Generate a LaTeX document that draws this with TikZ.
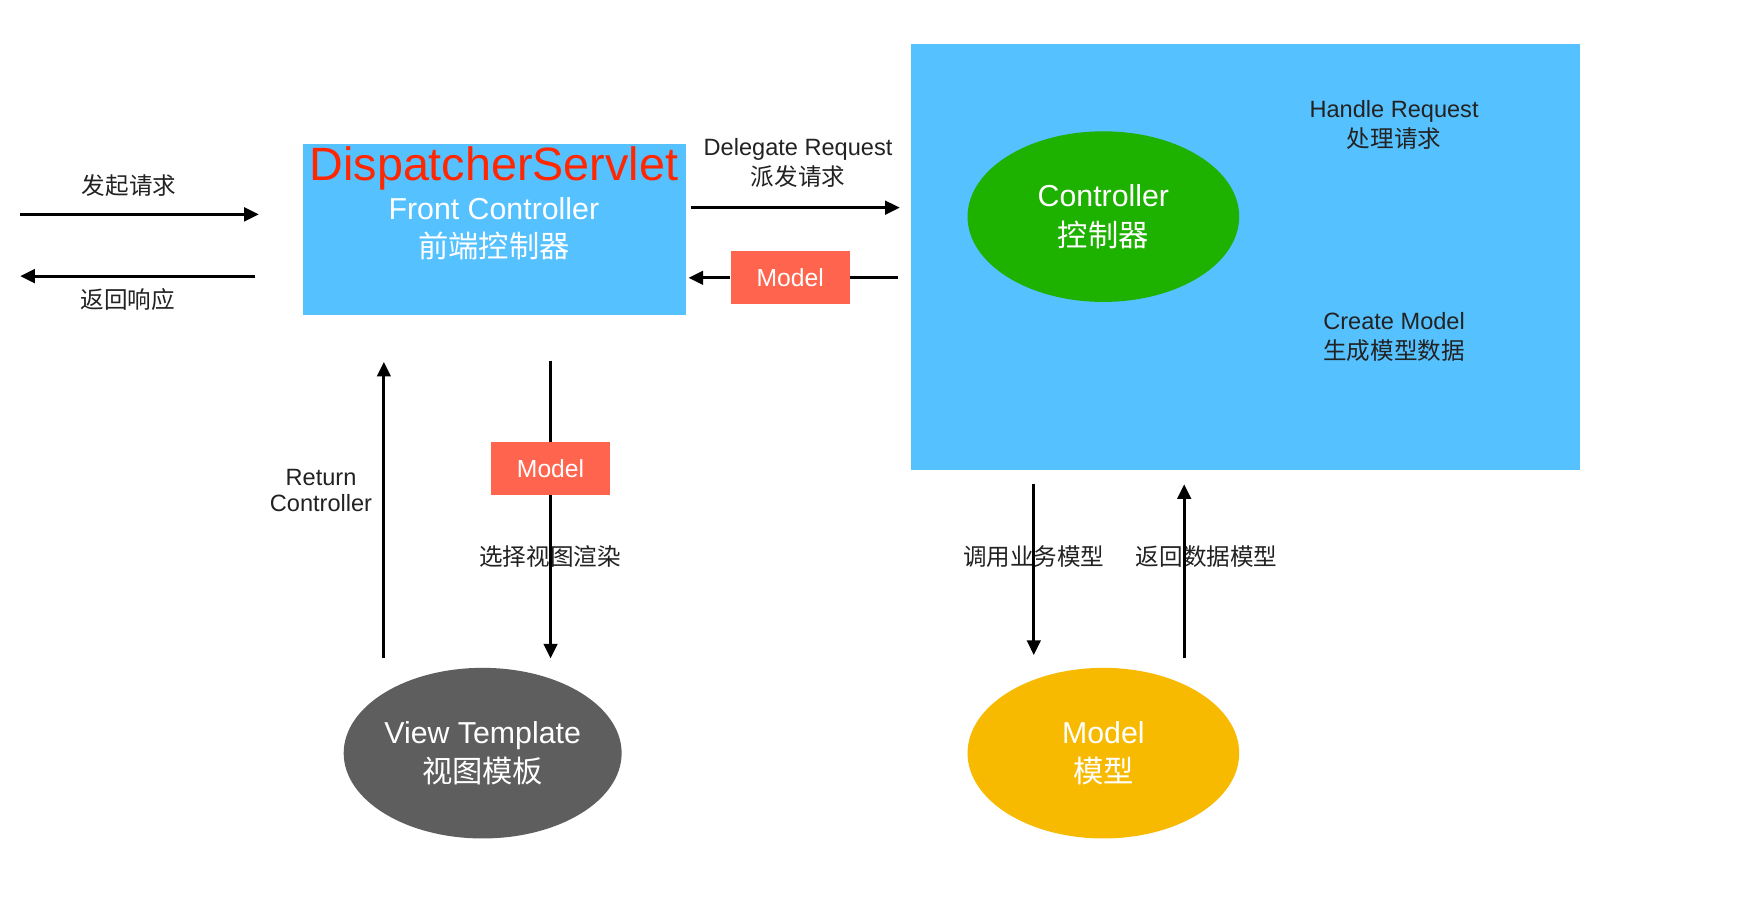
\documentclass[tikz,border=0pt]{standalone}
\usepackage{fontspec}
\setmainfont{Liberation Sans}
\newfontfamily\cjk{Noto Sans CJK SC}
\usetikzlibrary{shapes.geometric, arrows.meta, positioning}
\definecolor{MVCBlue}{RGB}{86, 193, 255}
\definecolor{MVCRed}{RGB}{255, 100, 78}
\definecolor{MVCServlet}{RGB}{255, 38, 0}
\definecolor{MVCGreen}{RGB}{29, 177, 0}
\definecolor{MVCGray}{RGB}{94, 94, 94}
\definecolor{MVCYellow}{RGB}{248, 186, 0}
\definecolor{MVCText}{RGB}{34, 34, 34}

\begin{document}
\begin{tikzpicture}[x=0.5pt,y=0.5pt,
  flow/.style={line width=1.3pt, -{Triangle[length=6.5pt,width=6pt]}},
  plain/.style={line width=1.3pt},
  tag/.style={fill=MVCRed, text=white, minimum width=53pt, minimum height=23.5pt, inner sep=0pt, font=\fontsize{11}{13}\selectfont},
  blob/.style={ellipse, minimum width=121pt, minimum height=76pt, inner sep=0pt, text=white, align=center, font=\fontsize{13.5}{17.5}\selectfont},
  lbl/.style={text=MVCText, align=center, font=\fontsize{10.5}{13.5}\selectfont}]
  \path[use as bounding box] (0,0) rectangle (1568,813);
  \fill[white] (0,0) rectangle (1568,813);

  % Front controller box
  \node[fill=MVCBlue, minimum width=170.5pt, minimum height=76.5pt, inner sep=0pt] (disp) at (440.5,608.5) {};
  \node[text=MVCServlet, font=\fontsize{20.8}{24}\selectfont] (dsname) at (440,663) {DispatcherServlet};
  \node[text=white, align=center, font=\fontsize{13.5}{17}\selectfont] (dsrole) at (440,609) {Front Controller\\{\cjk 前端控制器}};

  % Controller area
  \node[fill=MVCBlue, minimum width=298pt, minimum height=190pt, inner sep=0pt] (ctl) at (1110,584) {};
  \node[blob, fill=MVCGreen] (ctlr) at (983,620) {Controller\\{\cjk 控制器}};
  \node[lbl] (hreq) at (1242,701.5) {Handle Request\\{\cjk 处理请求}};
  \node[lbl] (cmod) at (1242,512.5) {Create Model\\{\cjk 生成模型数据}};

  % Bottom ellipses
  \node[blob, fill=MVCGray] (view) at (430,142) {View Template\\{\cjk 视图模板}};
  \node[blob, fill=MVCYellow] (mdl) at (983,142) {Model\\{\cjk 模型}};

  % Client side
  \coordinate (user) at (18,622);
  \coordinate (back) at (18,567);
  \node[lbl, font=\fontsize{10.5}{13.5}\selectfont\cjk] (sendreq) at (115,648) {发起请求};
  \node[lbl, font=\fontsize{10.5}{13.5}\selectfont\cjk] (sendresp) at (114,546) {返回响应};
  \draw[flow, shorten >=19.5pt] (user) -- (user -| disp.west);
  \draw[flow, shorten <=21pt] (back -| disp.west) -- (back);

  % Delegate / return model
  \coordinate (dlg) at ([yshift=9.75pt]disp.east);
  \node[lbl] (dreq) at (711,667.5) {Delegate Request\\{\cjk 派发请求}};
  \draw[flow, shorten <=2pt, shorten >=5pt] (dlg) -- (dlg -| ctl.west);
  \node[tag] (mtag) at (704,565.5) {Model};
  \draw[plain, shorten <=6pt] (mtag -| ctl.west) -- (mtag);
  \draw[flow, shorten >=1pt] (mtag) -- (mtag -| disp.east);

  % View rendering
  \coordinate (rcx) at (342,0);
  \node[lbl, font=\fontsize{10.5}{12}\selectfont] (retc) at (286,376) {Return\\Controller};
  \draw[flow, shorten <=4pt, shorten >=20.5pt] (rcx |- view.north) -- (rcx |- disp.south);
  \node[tag] (vtag) at (490.5,395.5) {Model};
  \node[lbl, font=\fontsize{10.5}{13.5}\selectfont\cjk] (pick) at (490,317) {选择视图渲染};
  \draw[plain, shorten <=20pt] (vtag |- disp.south) -- (vtag);
  \draw[flow, shorten >=4pt] (vtag) -- (vtag |- view.north);

  % Business model
  \coordinate (callx) at (921,0);
  \coordinate (backx) at (1055,0);
  \node[lbl, font=\fontsize{10.5}{13.5}\selectfont\cjk] (call) at (921,317) {调用业务模型};
  \node[lbl, font=\fontsize{10.5}{13.5}\selectfont\cjk] (ret) at (1075,317) {返回数据模型};
  \draw[flow, shorten <=6pt, shorten >=5.5pt] (callx |- ctl.south) -- (callx |- mdl.north);
  \draw[flow, shorten <=4pt, shorten >=6pt] (backx |- mdl.north) -- (backx |- ctl.south);
\end{tikzpicture}
\end{document}
